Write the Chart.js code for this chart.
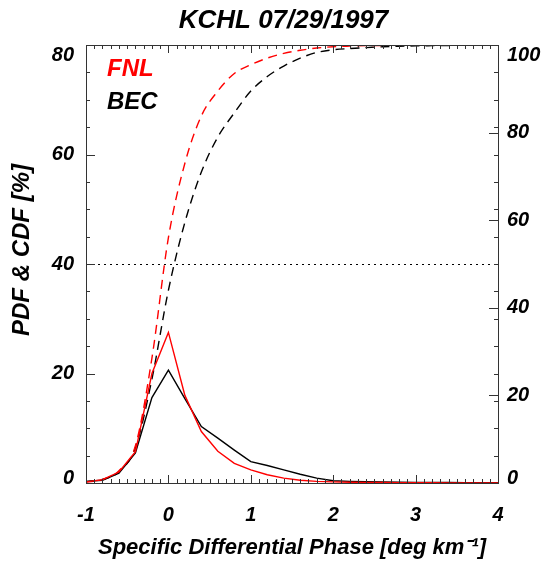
<!DOCTYPE html>
<html><head><meta charset="utf-8">
<script src="https://cdn.jsdelivr.net/npm/chart.js@4/dist/chart.umd.min.js"></script>
<style>html,body{margin:0;padding:0;background:#fff}#wrap{width:549px;height:563px}</style>
</head><body><div id="wrap"><canvas id="c" width="549" height="563"></canvas></div>
<script>
const chartTitle = 'KCHL 07/29/1997';
const xAxisTitle = 'Specific Differential Phase [deg km\u207B\u00B9]';
const yAxisTitle = 'PDF & CDF [%]';
const seriesNames = ['FNL', 'BEC'];
const phaseBins = [-1.0,-0.8,-0.6,-0.4,-0.2,0.0,0.2,0.4,0.6,0.8,1.0,1.2,1.4,1.6,1.8,2.0,2.2,2.4,2.6,2.8,3.0,3.2,3.4,3.6,3.8,4.0];
const pdfFNL = [0.2,0.6,2.0,5.7,20.0,27.5,16.0,9.4,5.8,3.6,2.4,1.5,0.9,0.5,0.3,0.2,0.15,0.1,0.08,0.06,0.05,0.04,0.03,0.03,0.02,0.02];
const pdfBEC = [0.3,0.5,1.8,5.5,15.6,20.6,15.4,10.3,8.2,6.0,3.9,3.2,2.4,1.6,0.9,0.4,0.3,0.25,0.2,0.15,0.1,0.1,0.08,0.06,0.05,0.05];
const cdfFNL = [0.2,0.8,2.8,8.5,28.5,56,73,83.8,89.5,93.5,95.5,97,98.1,98.8,99.3,99.6,99.75,99.85,99.9,99.93,99.95,99.97,99.98,99.99,100,100];
const cdfBEC = [0.3,0.8,2.6,8.1,23.7,44,59.5,71,79,84.5,89.5,92.8,95.2,97,98.3,98.9,99.2,99.4,99.6,99.7,99.8,99.85,99.9,99.95,100,100];
const xTicks = [-1,0,1,2,3,4];
const leftTicks = [0,20,40,60,80];
const rightTicks = [0,20,40,60,80,100];
const refLineLeft = 40;

const FONT = "'Liberation Sans', Arial, Helvetica, sans-serif";
const pts = (ys) => phaseBins.map((x, i) => ({x, y: ys[i]}));

// edge labels are nudged inward, as in the reference
const edgeLabel = (top, bottom) => (v) => v === top ? ['', String(v)] : (v === bottom ? [String(v), ''] : String(v));
const edgeFont = (top) => (c) => ({family: FONT, size: 20, weight: 'bold', style: 'italic',
  lineHeight: c.tick && c.tick.value === top ? 1.05 : (c.tick && c.tick.value === 0 ? 0.5 : 1.2)});

const decor = {
  id: 'decor',
  afterDatasetsDraw(chart) {
    const ctx = chart.ctx;
    const a = chart.chartArea;
    const sx = chart.scales.x, sy = chart.scales.y, sy2 = chart.scales.y2;
    ctx.save();
    ctx.strokeStyle = '#000'; ctx.lineWidth = 1; ctx.setLineDash([2, 4]);
    const yr = Math.round(sy.getPixelForValue(refLineLeft)) + 0.5;
    ctx.beginPath(); ctx.moveTo(a.left, yr); ctx.lineTo(a.right, yr); ctx.stroke();
    ctx.setLineDash([]);
    ctx.strokeStyle = '#333'; ctx.lineWidth = 1;
    ctx.strokeRect(Math.round(a.left) + 0.5, Math.round(a.top) + 0.5, Math.round(a.right - a.left), Math.round(a.bottom - a.top));
    ctx.beginPath();
    for (let k = -10; k <= 40; k++) {
      const v = k / 10;
      const px = Math.round(sx.getPixelForValue(v)) + 0.5;
      const len = (k % 10 === 0) ? 8 : 4;
      ctx.moveTo(px, a.bottom); ctx.lineTo(px, a.bottom - len);
      ctx.moveTo(px, a.top); ctx.lineTo(px, a.top + len);
    }
    for (let v = 0; v <= 80; v += 5) {
      const py = Math.round(sy.getPixelForValue(v)) + 0.5;
      const len = (v % 20 === 0) ? 9 : 4;
      ctx.moveTo(a.left, py); ctx.lineTo(a.left + len, py);
      ctx.moveTo(a.right, py); ctx.lineTo(a.right - 4, py);
    }
    for (const v of rightTicks) {
      const py = Math.round(sy2.getPixelForValue(v)) + 0.5;
      ctx.moveTo(a.right, py); ctx.lineTo(a.right - 9, py);
    }
    ctx.stroke();
    ctx.font = `italic bold 24px ${FONT}`;
    ctx.textAlign = 'left'; ctx.textBaseline = 'alphabetic';
    ctx.fillStyle = '#ff0000'; ctx.fillText(seriesNames[0], 107, 76);
    ctx.fillStyle = '#000'; ctx.fillText(seriesNames[1], 107, 109);
    ctx.translate(22, 250); ctx.rotate(-Math.PI / 2);
    ctx.font = `italic bold 24px ${FONT}`;
    ctx.textAlign = 'center'; ctx.textBaseline = 'middle';
    ctx.fillText(yAxisTitle, 0, 0);
    ctx.restore();
  }
};

new Chart(document.getElementById('c'), {
  type: 'line',
  data: {
    datasets: [
      {label: seriesNames[0] + ' PDF', data: pts(pdfFNL), yAxisID: 'y', borderColor: '#ff0000', borderWidth: 1.4},
      {label: seriesNames[1] + ' PDF', data: pts(pdfBEC), yAxisID: 'y', borderColor: '#000000', borderWidth: 1.4},
      {label: seriesNames[0] + ' CDF', data: pts(cdfFNL), yAxisID: 'y2', borderColor: '#ff0000', borderWidth: 1.4, borderDash: [9, 6], cubicInterpolationMode: 'monotone'},
      {label: seriesNames[1] + ' CDF', data: pts(cdfBEC), yAxisID: 'y2', borderColor: '#000000', borderWidth: 1.4, borderDash: [9, 6], cubicInterpolationMode: 'monotone'}
    ]
  },
  options: {
    responsive: false, animation: false, devicePixelRatio: 1,
    parsing: false,
    elements: {point: {radius: 0}, line: {tension: 0, fill: false}},
    layout: {padding: {left: 18, right: 0, top: 0, bottom: 0}},
    plugins: {
      legend: {display: false}, tooltip: {enabled: false},
      title: {display: true, text: chartTitle, color: '#000',
        font: {family: FONT, size: 26, weight: 'bold', style: 'italic', lineHeight: 1.2},
        padding: {top: 5, bottom: 8.8}}
    },
    scales: {
      x: {type: 'linear', position: 'bottom', min: -1, max: 4,
        afterBuildTicks: (s) => { s.ticks = xTicks.map(v => ({value: v})); },
        afterFit: (s) => { s.height = 80; },
        grid: {display: false, drawTicks: false}, border: {display: false},
        ticks: {color: '#000', padding: 20, font: {family: FONT, size: 20, weight: 'bold', style: 'italic'}},
        title: {display: true, text: xAxisTitle, color: '#000', padding: {top: 0, bottom: 2},
          font: {family: FONT, size: 22, weight: 'bold', style: 'italic'}}
      },
      y: {type: 'linear', position: 'left', min: 0, max: 80,
        afterBuildTicks: (s) => { s.ticks = leftTicks.map(v => ({value: v})); },
        afterFit: (s) => { s.width = 68; },
        grid: {display: false, drawTicks: false}, border: {display: false},
        ticks: {color: '#000', padding: 12, callback: edgeLabel(80, 0), font: edgeFont(80)}
      },
      y2: {type: 'linear', position: 'right', min: 0, max: 100,
        afterBuildTicks: (s) => { s.ticks = rightTicks.map(v => ({value: v})); },
        afterFit: (s) => { s.width = 51; },
        grid: {display: false, drawTicks: false}, border: {display: false},
        ticks: {color: '#000', padding: 9, callback: edgeLabel(100, 0), font: edgeFont(100)}
      }
    }
  },
  plugins: [decor]
});
</script></body></html>
